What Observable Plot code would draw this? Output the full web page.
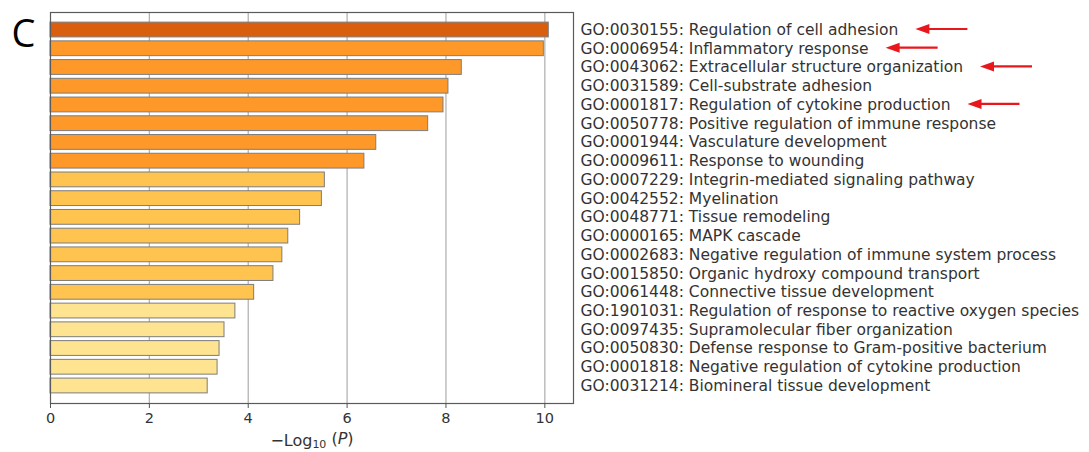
<!DOCTYPE html>
<html>
<head>
<meta charset="utf-8">
<script src="https://cdn.jsdelivr.net/npm/d3@7"></script>
<script src="https://cdn.jsdelivr.net/npm/@observablehq/plot@0.6"></script>
<style>
  html, body { margin: 0; padding: 0; background: #fff; }
  svg { display: block; }
</style>
</head>
<body>
<div id="chart"></div>
<script>
const terms = [
  "GO:0030155: Regulation of cell adhesion",
  "GO:0006954: Inflammatory response",
  "GO:0043062: Extracellular structure organization",
  "GO:0031589: Cell-substrate adhesion",
  "GO:0001817: Regulation of cytokine production",
  "GO:0050778: Positive regulation of immune response",
  "GO:0001944: Vasculature development",
  "GO:0009611: Response to wounding",
  "GO:0007229: Integrin-mediated signaling pathway",
  "GO:0042552: Myelination",
  "GO:0048771: Tissue remodeling",
  "GO:0000165: MAPK cascade",
  "GO:0002683: Negative regulation of immune system process",
  "GO:0015850: Organic hydroxy compound transport",
  "GO:0061448: Connective tissue development",
  "GO:1901031: Regulation of response to reactive oxygen species",
  "GO:0097435: Supramolecular fiber organization",
  "GO:0050830: Defense response to Gram-positive bacterium",
  "GO:0001818: Negative regulation of cytokine production",
  "GO:0031214: Biomineral tissue development"
];
const values = [10.08, 9.98, 8.32, 8.05, 7.95, 7.64, 6.59, 6.35, 5.55, 5.49,
                5.05, 4.81, 4.69, 4.51, 4.12, 3.74, 3.52, 3.42, 3.38, 3.18];
const highlighted = ["GO:0030155", "GO:0006954", "GO:0043062", "GO:0001817"];
const xTicks = [0, 2, 4, 6, 8, 10];
const xMax = 10.58;
const pBins = [4, 6, 10];
const binColors = ["#fee391", "#fec44f", "#fe9929", "#d95f0e"];
const panelLetter = ["C"];

const data = terms.map((t, i) => ({term: t, value: values[i]}));

const plot = Plot.plot({
  width: 1089,
  height: 452,
  marginLeft: 50,
  marginRight: 516,
  marginTop: 12,
  marginBottom: 49,
  style: {fontFamily: "DejaVu Sans", fontSize: "14px", color: "#333", background: "#fff"},
  x: {domain: [0, xMax]},
  y: {domain: terms, paddingInner: 0.21, paddingOuter: 0.54, round: false, axis: null},
  color: {type: "threshold", domain: pBins, range: binColors},
  marks: [
    Plot.gridX(xTicks.filter(d => d > 0), {stroke: "#b3b3b3", strokeOpacity: 1, strokeWidth: 1.3}),
    Plot.barX(data, {x: "value", y: "term", fill: "value", stroke: "#7d7d7d", strokeWidth: 1}),
    Plot.frame({stroke: "#5a5a5a", strokeWidth: 1.2}),
    Plot.axisX({ticks: xTicks, tickSize: 5, tickPadding: 4, stroke: "#555", fill: "#333",
      fontSize: 14.5, label: "−Log10 (P)", labelAnchor: "center", labelArrow: "none", labelOffset: 42}),
    Plot.text(data, {y: "term", text: "term", frameAnchor: "right", textAnchor: "start",
      dx: 7, fontSize: 15.5, fill: "#333"}),
    Plot.text(panelLetter, {text: d => d, frameAnchor: "top-left", textAnchor: "middle",
      lineAnchor: "middle", dx: -27, dy: 22, fontSize: 38, fontFamily: "Open Sans", fill: "#000"})
  ]
});

document.getElementById("chart").appendChild(plot);

// Axis label: subscript 10 and italic P
const svg = d3.select(plot.tagName === "svg" ? plot : plot.querySelector("svg"));
svg.selectAll("text").each(function() {
  if (this.textContent === "−Log10 (P)") {
    const t = d3.select(this);
    t.attr("font-size", 16);
    t.text(null);
    t.append("tspan").text("−Log");
    t.append("tspan").attr("font-size", "11").attr("dy", "0.25em").text("10");
    t.append("tspan").attr("dy", "-0.25em").text(" (");
    t.append("tspan").attr("font-style", "italic").text("P");
    t.append("tspan").text(")");
  }
});

// Red arrows pointing at highlighted terms
const svgNode = svg.node();
const svgRect = svgNode.getBoundingClientRect();
const arrows = svg.append("g").attr("aria-label", "highlight arrows");
svg.selectAll("text").each(function() {
  const txt = this.textContent;
  if (highlighted.some(h => txt.startsWith(h + ":"))) {
    const r = this.getBoundingClientRect();
    const x0 = r.right - svgRect.left + 17;
    const cy = (r.top + r.bottom) / 2 - svgRect.top - 1;
    const len = 52;
    arrows.append("line")
      .attr("x1", x0 + 10).attr("x2", x0 + len)
      .attr("y1", cy).attr("y2", cy)
      .attr("stroke", "#e8171c").attr("stroke-width", 2.2);
    arrows.append("path")
      .attr("d", `M${x0},${cy}L${x0 + 14},${cy - 5}L${x0 + 14},${cy + 5}Z`)
      .attr("fill", "#e8171c");
  }
});
</script>
</body>
</html>
